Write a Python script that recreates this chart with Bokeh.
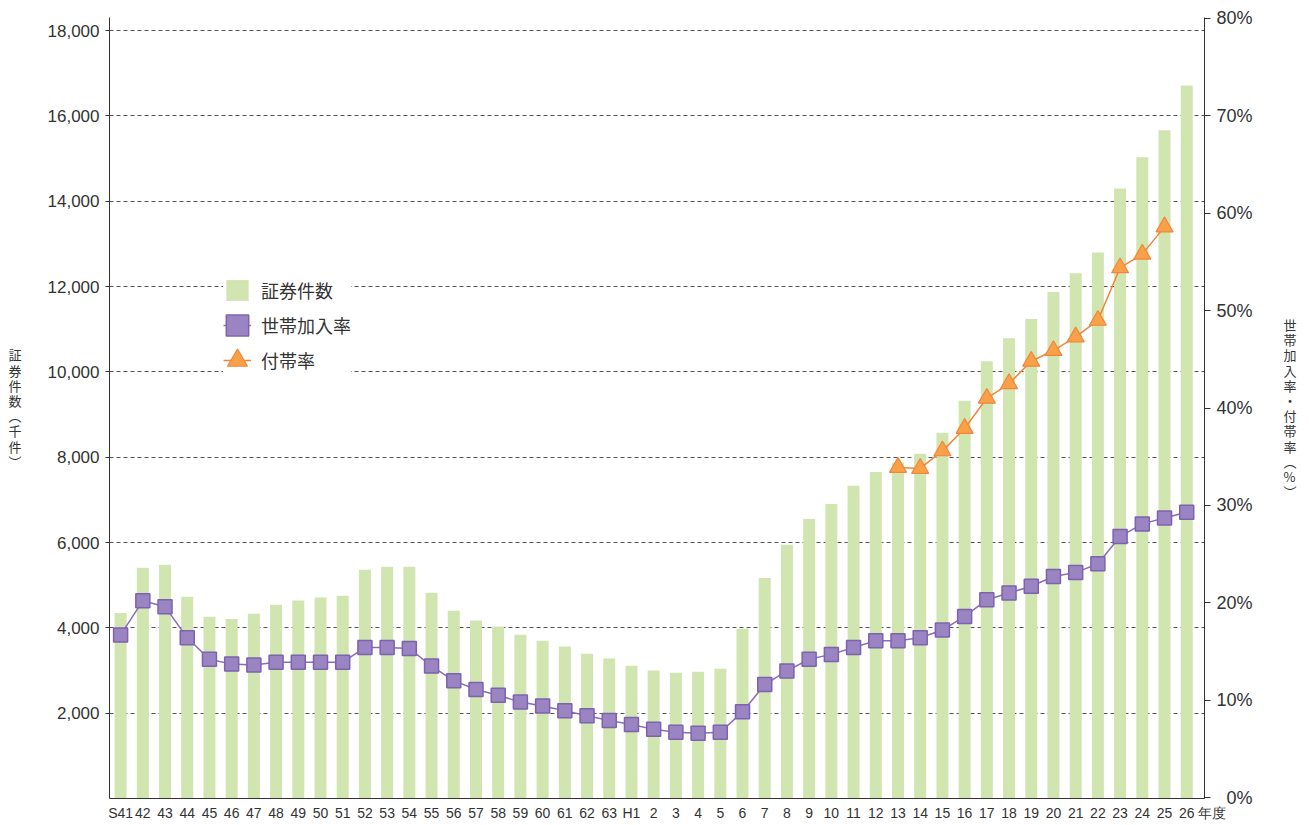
from bokeh.plotting import figure
from bokeh.models import (Range1d, LinearAxis, FixedTicker, ColumnDataSource, Legend,
                          LegendItem, NumeralTickFormatter, PrintfTickFormatter)
from bokeh.embed import file_html
from bokeh.resources import INLINE

# ---------------- data ----------------
years = ["S41", "42", "43", "44", "45", "46", "47", "48", "49", "50", "51", "52", "53",
         "54", "55", "56", "57", "58", "59", "60", "61", "62", "63", "H1", "2", "3", "4",
         "5", "6", "7", "8", "9", "10", "11", "12", "13", "14", "15", "16", "17", "18",
         "19", "20", "21", "22", "23", "24", "25", "26"]
certificates = [4350, 5410, 5480, 4730, 4260, 4210, 4330, 4540, 4640, 4710, 4750, 5360, 5430,
                5430, 4820, 4400, 4170, 4030, 3840, 3700, 3560, 3390, 3280, 3110, 3000, 2950, 2970,
                3040, 3980, 5170, 5950, 6550, 6900, 7330, 7650, 7870, 8080, 8570, 9320, 10250, 10790,
                11240, 11870, 12310, 12800, 14300, 15030, 15660, 16710]
household_rate = [16.7, 20.2, 19.6, 16.4, 14.2, 13.7, 13.6, 13.9, 13.9, 13.9, 13.9, 15.4, 15.4,
                  15.3, 13.5, 12.0, 11.1, 10.5, 9.8, 9.4, 8.9, 8.4, 7.9, 7.5, 7.0, 6.7, 6.6,
                  6.7, 8.8, 11.6, 13.0, 14.2, 14.7, 15.4, 16.1, 16.1, 16.4, 17.2, 18.6, 20.3, 21.0,
                  21.7, 22.7, 23.1, 24.0, 26.8, 28.1, 28.7, 29.3]
rider_years = ["13", "14", "15", "16", "17", "18", "19", "20", "21", "22", "23", "24", "25"]
rider_rate = [33.9, 33.8, 35.6, 37.9, 41.0, 42.5, 44.8, 45.9, 47.3, 49.0, 54.4, 55.8, 58.6]
left_ticks = [2000, 4000, 6000, 8000, 10000, 12000, 14000, 16000, 18000]
right_ticks = [0, 10, 20, 30, 40, 50, 60, 70, 80]

series_names = ["証券件数", "世帯加入率", "付帯率"]
left_title = "証券件数（千件）"
right_title = "世帯加入率・付帯率（%）"
x_suffix = "年度"

# ---------------- styles ----------------
GREEN = "#d1e5b1"
PURPLE_FILL = "#9a84c1"
PURPLE_LINE = "#7d62b0"
PURPLE = "#8b6cb8"
ORANGE_FILL = "#f9a14a"
ORANGE_LINE = "#f2853a"
TXT = "#333333"
FONT = "Liberation Sans"
CJK = "Noto Sans CJK JP"

idx = list(range(len(years)))
src = ColumnDataSource(dict(x=idx, cnt=certificates, rate=household_rate))
rsrc = ColumnDataSource(dict(x=[years.index(y) for y in rider_years], rate=rider_rate))

p = figure(width=1300, height=823, output_backend="svg", toolbar_location=None,
           x_range=Range1d(-0.5, 48.8), y_range=Range1d(0, 18305),
           min_border_left=109, min_border_right=96, min_border_top=17, min_border_bottom=25,
           outline_line_color=None, background_fill_color="white", border_fill_color="white")
p.extra_y_ranges = {"pct": Range1d(-0.1, 80.1)}

bars = p.vbar(x="x", top="cnt", width=0.54, source=src, fill_color=GREEN, line_color=None)

hl = p.line("x", "rate", source=src, y_range_name="pct", line_color=PURPLE, line_width=1.5)
hs = p.scatter("x", "rate", source=src, y_range_name="pct", marker="square", size=14,
               fill_color=PURPLE_FILL, line_color=PURPLE_LINE, line_width=1.5)
rl = p.line("x", "rate", source=rsrc, y_range_name="pct", line_color=ORANGE_LINE, line_width=1.5)
rs = p.scatter("x", "rate", source=rsrc, y_range_name="pct", marker="triangle", size=17,
               fill_color=ORANGE_FILL, line_color=ORANGE_LINE, line_width=1.2)

# hidden renderer whose only role is the square swatch in the legend
sq = p.rect(x="x", y="rate", width=0.5, height=1, source=src, y_range_name="pct",
            fill_color=PURPLE_FILL, line_color=PURPLE_LINE, line_width=1.5, visible=False)

# ---------------- axes ----------------
def vertical(s):
    return "\n".join(s.replace("（", "︵").replace("）", "︶"))

def style_title(ax, text, standoff):
    ax.axis_label = vertical(text)
    ax.axis_label_orientation = "horizontal"
    ax.axis_label_standoff = standoff
    ax.axis_label_text_font = CJK
    ax.axis_label_text_font_style = "normal"
    ax.axis_label_text_font_size = "13px"
    ax.axis_label_text_color = TXT
    ax.axis_label_text_align = "center"
    ax.axis_label_text_line_height = 0.8

yl = p.yaxis[0]
yl.ticker = FixedTicker(ticks=left_ticks)
yl.formatter = NumeralTickFormatter(format="0,0")
yl.major_tick_out = 4
yl.major_tick_in = 0
yl.minor_tick_out = 0
yl.minor_tick_in = 0
yl.major_label_standoff = 6
yl.major_label_text_font = FONT
yl.major_label_text_font_size = "17px"
yl.major_label_text_color = TXT
yl.axis_line_color = TXT
yl.major_tick_line_color = TXT
style_title(yl, left_title, 23)

yr = LinearAxis(y_range_name="pct", ticker=FixedTicker(ticks=right_ticks),
                formatter=PrintfTickFormatter(format="%d%%"))
yr.major_label_overrides = {0: "\u20070%"}
yr.major_tick_out = 6
yr.major_tick_in = 0
yr.minor_tick_out = 0
yr.minor_tick_in = 0
yr.major_label_standoff = 6
yr.major_label_text_font = FONT
yr.major_label_text_font_size = "18px"
yr.major_label_text_color = TXT
yr.axis_line_color = TXT
yr.major_tick_line_color = TXT
style_title(yr, right_title, 28)
p.add_layout(yr, "right")

xa = p.xaxis[0]
xa.ticker = FixedTicker(ticks=idx)
labels = {i: y for i, y in enumerate(years)}
labels[idx[-1]] = "\u3000\u3000 " + years[-1] + " " + x_suffix
xa.major_label_overrides = labels
xa.major_tick_out = 0
xa.major_tick_in = 0
xa.minor_tick_out = 0
xa.minor_tick_in = 0
xa.major_label_standoff = 6
xa.major_label_text_font = FONT
xa.major_label_text_font_size = "14px"
xa.major_label_text_color = TXT
xa.axis_line_color = TXT

p.xgrid.visible = False
p.ygrid.ticker = FixedTicker(ticks=left_ticks)
p.ygrid.grid_line_color = "#555555"
p.ygrid.grid_line_dash = "4 3"
p.ygrid.grid_line_width = 1

# ---------------- legend ----------------
legend = Legend(items=[LegendItem(label=series_names[0], renderers=[bars]),
                       LegendItem(label=series_names[1], renderers=[hl, sq]),
                       LegendItem(label=series_names[2], renderers=[rl])],
                location=(114, 425), orientation="vertical",
                background_fill_color="white", background_fill_alpha=1.0,
                border_line_color=None, padding=20, spacing=9, margin=0,
                glyph_width=28, glyph_height=26, label_standoff=10, label_width=90,
                inactive_fill_alpha=0.0,
                label_text_font=CJK, label_text_font_size="18px", label_text_color=TXT)
p.add_layout(legend)
# larger triangle swatch laid over the third legend entry
legend_tri = Legend(items=[LegendItem(label=" ", renderers=[rs])],
                    location=(103, 413), background_fill_alpha=0.0, border_line_color=None,
                    padding=0, spacing=0, margin=0, glyph_width=50, glyph_height=50,
                    label_standoff=0, label_width=0, inactive_fill_alpha=0.0,
                    label_text_font_size="1px")
p.add_layout(legend_tri)

open("out.html", "w").write(file_html(p, INLINE))
